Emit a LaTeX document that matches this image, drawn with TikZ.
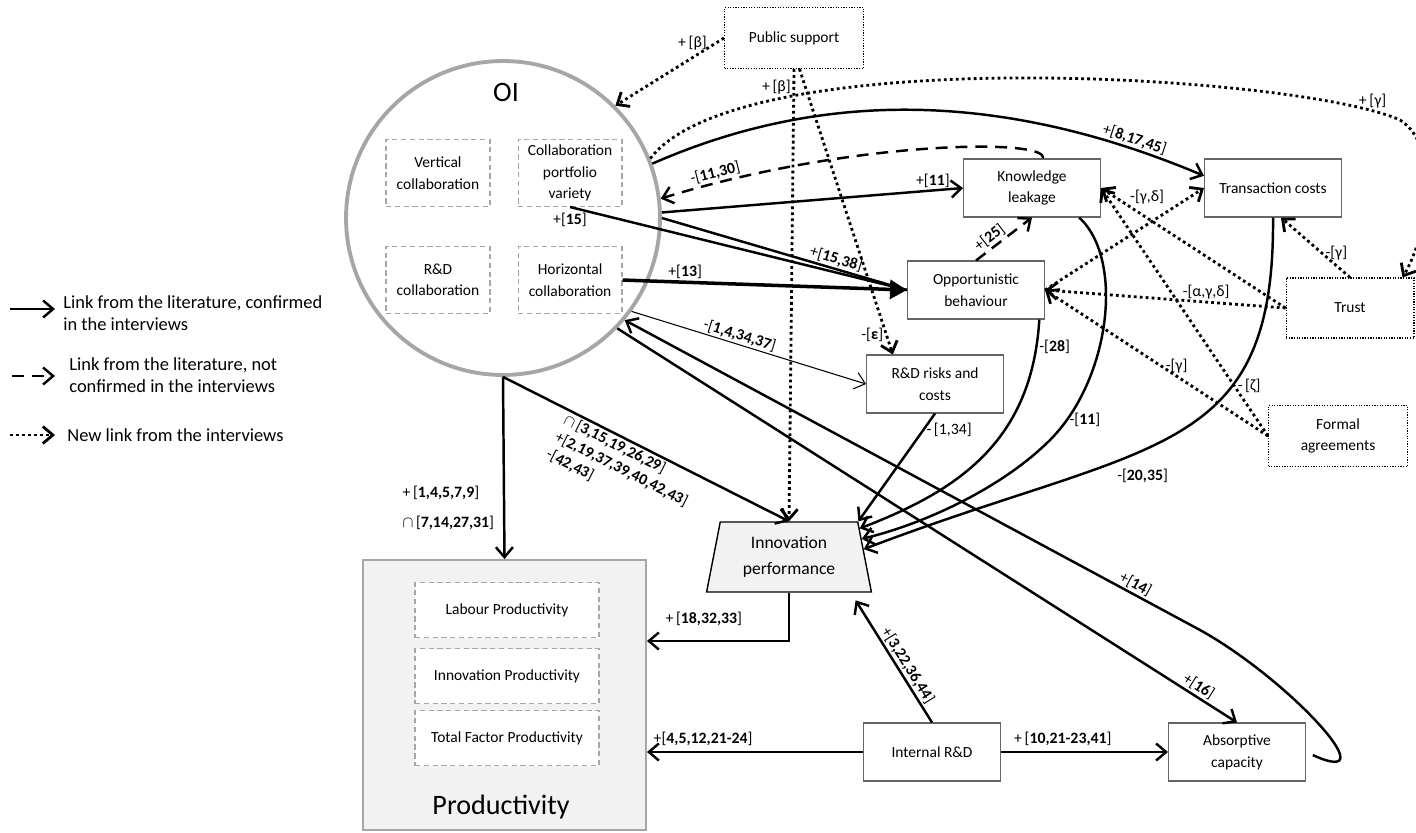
\documentclass[tikz,border=0pt]{standalone}
\usepackage{fontspec}
\setmainfont{Carlito}
\usetikzlibrary{shapes.geometric, arrows.meta, positioning, calc}
\newcommand{\src}[1]{[\textbf{#1}]}

\begin{document}
\begin{tikzpicture}[
    x=0.02cm, y=-0.02cm,
    factor/.style={rectangle, draw=black!60, line width=0.6pt, minimum width=2.74cm, minimum height=1.16cm, align=center, inner sep=1pt, font=\fontsize{8.8}{12.4}\selectfont},
    external/.style={factor, draw=black, dash pattern=on 0.7pt off 0.8pt, minimum width=2.78cm, minimum height=1.22cm},
    oibox/.style={rectangle, draw=black!35, dash pattern=on 3pt off 2pt, line width=0.6pt, fill=white, align=center, inner sep=1pt, minimum width=2.08cm, minimum height=1.34cm, font=\fontsize{8.8}{12.2}\selectfont},
    prodbox/.style={oibox, minimum width=3.68cm, minimum height=1.1cm},
    link/.style={-{Straight Barb[length=2mm, width=3.4mm]}, line width=1.4pt},
    unconfirmed/.style={link, dash pattern=on 6.8pt off 4.5pt},
    newlink/.style={link, line width=1.6pt, dash pattern=on 1.6pt off 1.8pt},
    lbl/.style={inner sep=1pt, font=\fontsize{9}{11}\selectfont},
    legendtext/.style={anchor=west, align=left, inner sep=0pt, font=\fontsize{10.5}{12.8}\selectfont}
]
\useasboundingbox (0,0) rectangle (1416,832);

\node[legendtext] (leg1) at (63,313) {Link from the literature, confirmed\\in the interviews};
\node[legendtext] (leg2) at (69,375) {Link from the literature, not\\confirmed in the interviews};
\node[legendtext] (leg3) at (67,435) {New link from the interviews};
\coordinate (leg1s) at (10,309); \coordinate (leg1e) at (55,309);
\coordinate (leg2s) at (12,376); \coordinate (leg2e) at (55,376);
\coordinate (leg3s) at (10,435); \coordinate (leg3e) at (55,435);

\node[circle, draw=black!35, line width=2.2pt, minimum size=6.28cm] (oi) at (503,218) {};
\node[font=\fontsize{16}{18}\selectfont] (oilabel) at (506,92) {OI};
\node[oibox] (vert) at (438,173) {Vertical\\collaboration};
\node[oibox, right=0.54cm of vert] (cpv) {Collaboration\\portfolio\\variety};
\node[oibox, below=0.78cm of vert] (rdc) {R\&D\\collaboration};
\node[oibox, below=0.78cm of cpv] (hor) {Horizontal\\collaboration};

\node[rectangle, draw=black!35, line width=1.1pt, fill=black!5, minimum width=5.66cm, minimum height=5.4cm] (prod) at (504.5,695) {};
\node[prodbox] (labour) at (507,610) {Labour Productivity};
\node[prodbox, below=0.2cm of labour] (innprod) {Innovation Productivity};
\node[prodbox, below=0.12cm of innprod] (tfp) {Total Factor Productivity};
\node[font=\fontsize{16}{18}\selectfont] (prodlabel) at (501,807) {Productivity};

\node[trapezium, trapezium left angle=79, trapezium right angle=79, trapezium stretches=true, draw, line width=0.8pt, fill=black!5, minimum width=3.32cm, minimum height=1.4cm, align=center, font=\fontsize{10}{15}\selectfont] (inn) at (789,557) {Innovation\\performance};

\node[external] (ps) at (794,38) {Public support};
\node[factor] (kl) at (1032,188) {Knowledge\\leakage};
\node[factor, right=2.06cm of kl] (tc) {Transaction costs};
\node[factor] (opp) at (976,290) {Opportunistic\\behaviour};
\node[factor] (rdr) at (935,384) {R\&D risks and\\costs};
\node[external, minimum width=2.56cm, minimum height=1.2cm] (trust) at (1350,308) {Trust};
\node[external] (fa) at (1338,436) {Formal\\agreements};
\node[factor] (ird) at (932,752) {Internal R\&D};
\node[factor, right=3.34cm of ird] (abs) {Absorptive\\capacity};

\draw[link] (leg1s) -- (leg1e);
\draw[unconfirmed] (leg2s) -- (leg2e);
\draw[newlink] (leg3s) -- (leg3e);

\draw[newlink] (ps.west) node[lbl, left=8pt, yshift=-3pt]{+\,[β]} -- (oi.45);
\draw[newlink] (ps.south) -- (inn.north) node[lbl, pos=0.04, left]{+\,[β]};
\draw[newlink] (ps.-80) -- (rdr.145) node[lbl, pos=0.93, left]{-\src{ε}};
\draw[newlink] (oi.22) .. controls (740,40) and (1300,75) .. (1400,120) node[lbl, pos=0.93, above]{+\,[γ]} .. controls (1440,145) and (1430,230) .. ([xshift=-0.24cm]trust.north east);

\draw[link] (oi.20) .. controls (820,90) and (1000,90) .. (tc.170) node[lbl, pos=0.88, sloped, above]{+\src{8,17,45}};
\draw[unconfirmed] (kl.70) .. controls (1050,138) and (850,140) .. (oi.7) node[lbl, pos=0.9, sloped, above]{-\src{11,30}};
\draw[link] (oi.2) -- (kl.west) node[lbl, pos=0.9, above]{+\src{11}};
\draw[link, -] (cpv.south) node[lbl, below=2pt]{+\src{15}} -- (opp.west);
\draw[link, -] (oi.east) -- (opp.west) node[lbl, pos=0.7, sloped, above]{+\src{15,38}};
\draw[link, line width=2pt, -{Triangle[length=3.4mm, width=3.8mm]}] (hor.east) -- (opp.west) node[lbl, pos=0.22, above]{+\src{13}};
\draw[link, line width=0.6pt] (oi.-36) -- (rdr.west) node[lbl, pos=0.45, sloped, above]{-\src{1,4,34,37}};
\draw[link, shorten <=1.5mm] (abs.east) .. controls (1390,790) and (1290,680) .. (1200,630) -- (oi.-40) node[lbl, pos=0.12, sloped, above]{+\src{14}};
\draw[link] (oi.-44) -- (abs.north) node[lbl, pos=0.93, sloped, above]{+\src{16}};
\draw[link] (oi.south) -- (prod.north) node[lbl, pos=0.72, left=4pt, align=left]{+\,\src{1,4,5,7,9}\\[6pt]$\cap$\,\src{7,14,27,31}};
\draw[link] (oi.south) -- (inn.north) node[lbl, pos=0.46, sloped, below, align=left]{$\cap$\,\src{3,15,19,26,29}\\+\src{2,19,37,39,40,42,43}\\-\src{42,43}};

\draw[link] (inn.south) |- ([yshift=1.08cm]prod.east) node[lbl, pos=0.8, above=7pt]{+\,\src{18,32,33}};
\draw[link] (ird.west) -- (ird.west -| prod.east) node[lbl, pos=0.74, above=2pt]{+\src{4,5,12,21-24}};
\draw[link, shorten >=1.8mm] (ird.north) -- (inn.-30) node[lbl, pos=0.4, sloped, above]{+\src{3,22,36,44}};
\draw[link] (ird.east) -- (abs.west) node[lbl, pos=0.37, above=2pt]{+\,\src{10,21-23,41}};

\draw[unconfirmed] (opp.north) -- (kl.south) node[lbl, pos=0.35, sloped, above]{+\src{25}};
\draw[link] (rdr.south) -- (inn.top right corner) node[lbl, pos=0.15, right]{-\,[1,34]};
\draw[link] (opp.-25) .. controls (1032,440) and (960,490) .. (inn.22) node[lbl, pos=0.08, right]{-\src{28}};
\draw[link] (kl.-32) .. controls (1125,260) and (1110,380) .. (1050,440) node[lbl, pos=0.9, right]{-\src{11}} .. controls (1000,490) and (920,525) .. (inn.14);
\draw[link] (tc.south) .. controls (1275,460) and (1150,440) .. (inn.6) node[lbl, pos=0.6, below=6pt, xshift=6pt]{-\src{20,35}};

\draw[newlink] (trust.west) -- (kl.east) node[lbl, pos=0.75, above=6pt]{-[γ,δ]};
\draw[newlink] (trust.west) -- (opp.east) node[lbl, pos=0.33, above]{-[α,γ,δ]};
\draw[newlink] (trust.north) -- (tc.-75) node[lbl, pos=0.4, right]{-[γ]};
\draw[newlink] (fa.west) -- (kl.east) node[lbl, pos=0.2, right]{-\,[ζ]};
\draw[newlink] (fa.west) -- (opp.east) node[lbl, pos=0.41, above]{-[γ]};
\draw[newlink] (opp.east) -- (tc.west);

\end{tikzpicture}
\end{document}
